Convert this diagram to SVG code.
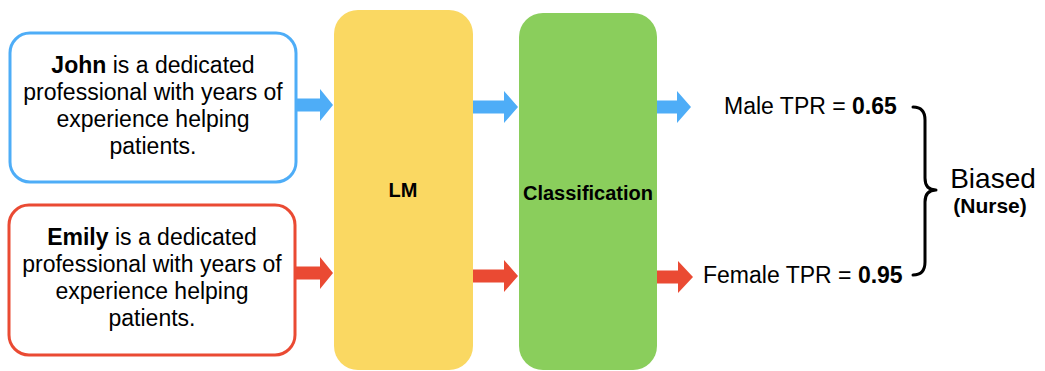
<svg xmlns="http://www.w3.org/2000/svg" width="1045" height="371" viewBox="0 0 1045 371">
  <style>
    text { font-family: "Liberation Sans", Arial, Helvetica, sans-serif; fill: #000; }
    .sent { font-size: 23px; text-anchor: middle; }
    .b { font-weight: bold; }
    .stage { font-size: 20px; font-weight: bold; text-anchor: middle; }
    .tpr { font-size: 23px; }
    .blue { fill: #4EADF7; }
    .red { fill: #EA4A33; }
  </style>
  <rect width="1045" height="371" fill="#ffffff"/>

  <!-- input sentence: male -->
  <g id="input-john">
    <rect x="10" y="33" width="286" height="149" rx="20" fill="#ffffff" stroke="#4EADF7" stroke-width="3"/>
    <text class="sent" x="153" y="73"><tspan class="b">John</tspan> is a dedicated</text>
    <text class="sent" x="153" y="100">professional with years of</text>
    <text class="sent" x="153" y="127">experience helping</text>
    <text class="sent" x="153" y="154">patients.</text>
  </g>

  <!-- input sentence: female -->
  <g id="input-emily">
    <rect x="9" y="205" width="286" height="150" rx="20" fill="#ffffff" stroke="#EA4A33" stroke-width="3"/>
    <text class="sent" x="152" y="245"><tspan class="b">Emily</tspan> is a dedicated</text>
    <text class="sent" x="152" y="272">professional with years of</text>
    <text class="sent" x="152" y="299">experience helping</text>
    <text class="sent" x="152" y="326">patients.</text>
  </g>

  <!-- language model -->
  <g id="lm">
    <rect x="334" y="10" width="139" height="360" rx="24" fill="#FAD862"/>
    <text class="stage" x="403" y="197">LM</text>
  </g>

  <!-- classifier -->
  <g id="classifier">
    <rect x="519" y="13" width="138" height="357" rx="24" fill="#8ACE5C"/>
    <text class="stage" x="588" y="200">Classification</text>
  </g>

  <!-- outputs -->
  <g id="male-tpr">
    <text class="tpr" x="724" y="114">Male TPR = <tspan class="b">0.65</tspan></text>
  </g>
  <g id="female-tpr">
    <text class="tpr" x="703" y="283">Female TPR = <tspan class="b">0.95</tspan></text>
  </g>

  <!-- verdict -->
  <g id="verdict">
    <path d="M913,107 Q925,107 925,120 L925,178 Q925,190 936,190 Q925,190 925,202 L925,262 Q925,275 913,275" fill="none" stroke="#000" stroke-width="3" stroke-linecap="round" stroke-linejoin="round"/>
    <text x="993" y="188" font-size="28" text-anchor="middle">Biased</text>
    <text x="990" y="213" font-size="21" font-weight="bold" text-anchor="middle">(Nurse)</text>
  </g>

  <!-- block arrows -->
  <g id="connectors">
    <polygon class="blue" points="296,98.5 320,98.5 320,89 333,105 320,121 320,111.5 296,111.5"/>
    <polygon class="blue" points="473,100.5 504,100.5 504,91 518,107 504,123 504,113.5 473,113.5"/>
    <polygon class="blue" points="657,100.5 677,100.5 677,91 691,107 677,123 677,113.5 657,113.5"/>
    <polygon class="red" points="295,266.5 320,266.5 320,257 333,273 320,289 320,279.5 295,279.5"/>
    <polygon class="red" points="473,269.5 504,269.5 504,260 518,276 504,292 504,282.5 473,282.5"/>
    <polygon class="red" points="657,270.5 678,270.5 678,261 693,277 678,293 678,283.5 657,283.5"/>
  </g>
</svg>
